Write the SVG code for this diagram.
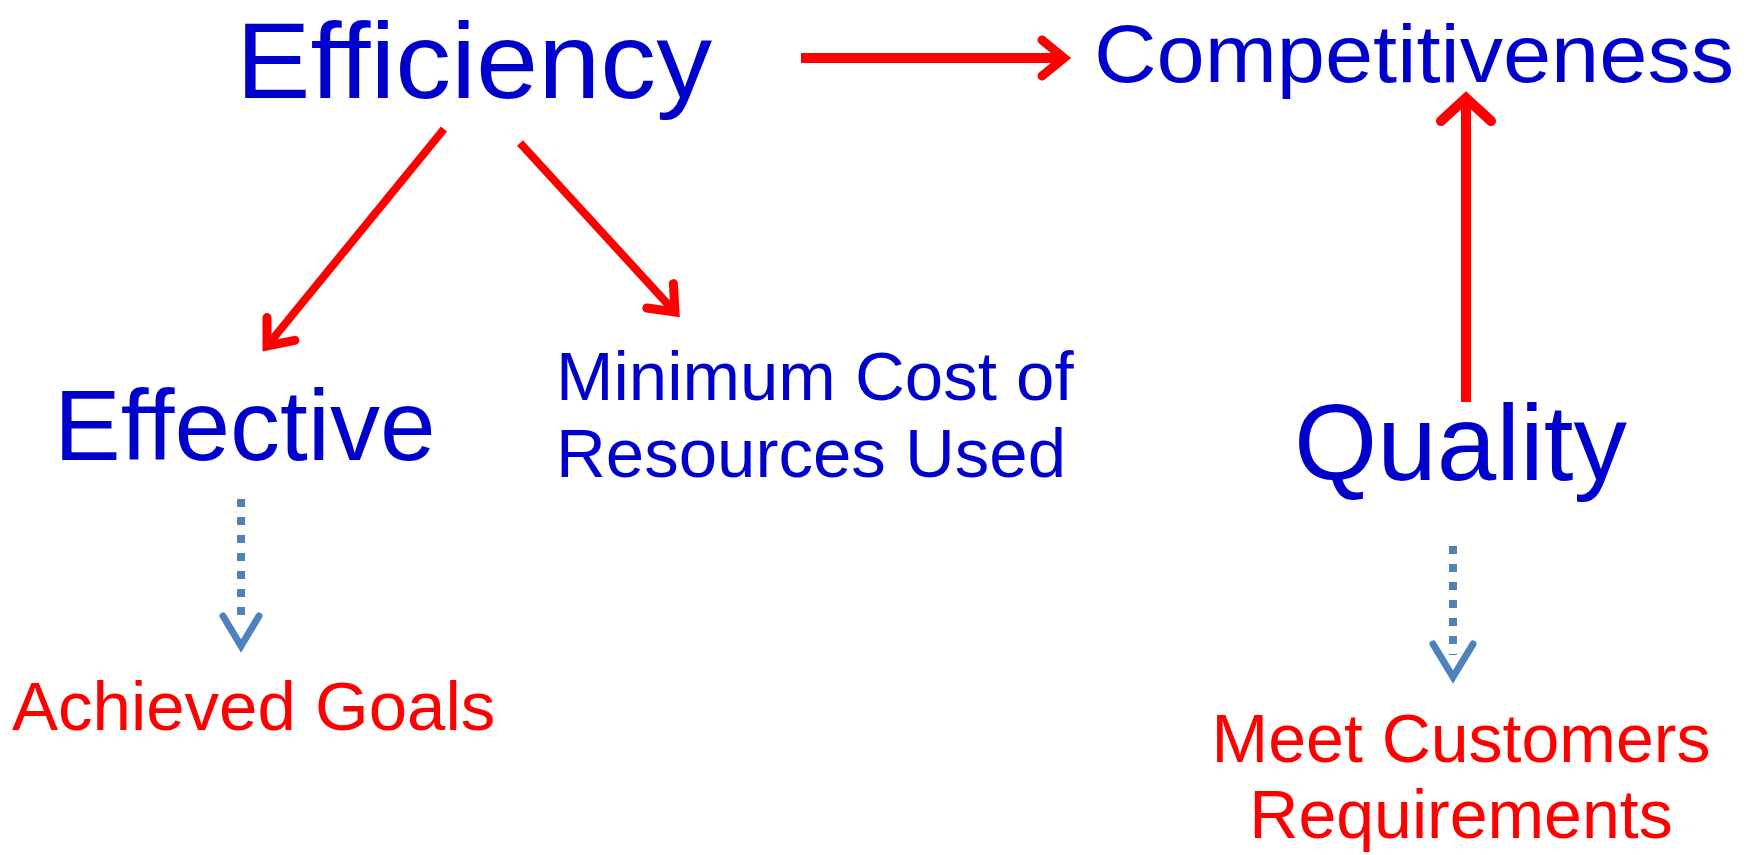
<svg xmlns="http://www.w3.org/2000/svg" width="1757" height="855" viewBox="0 0 1757 855">
<style>
.t{font-family:"Liberation Sans",Arial,sans-serif;}
.blue{fill:#0000CC;}
.red{fill:#FF0000;}
.ar{stroke:#FF0000;fill:none;}
.dot{stroke:#4F81BD;stroke-width:8;stroke-dasharray:8 10;fill:none;}
.chev{stroke:#4F81BD;stroke-width:7;fill:none;stroke-linecap:round;}
</style>
<defs>
<marker id="ah" markerUnits="userSpaceOnUse" markerWidth="80" markerHeight="80" viewBox="-40 -40 80 80" refX="0" refY="0" orient="auto" overflow="visible">
<path d="M-22,-18 L0,0 L-22,18" fill="none" stroke="#FF0000" stroke-width="9" stroke-linecap="round"/>
</marker>
<marker id="ahw" markerUnits="userSpaceOnUse" markerWidth="80" markerHeight="80" viewBox="-40 -40 80 80" refX="0" refY="0" orient="auto" overflow="visible">
<path d="M-23,-25 L0,0 L-23,25" fill="none" stroke="#FF0000" stroke-width="10" stroke-linecap="round"/>
</marker>
</defs>
<rect width="1757" height="855" fill="#FFFFFF"/>
<g id="n-efficiency"><text class="t blue" x="236" y="98" font-size="108" textLength="476" lengthAdjust="spacingAndGlyphs">Efficiency</text></g>
<g id="n-competitiveness"><text class="t blue" x="1094" y="82" font-size="81" textLength="640" lengthAdjust="spacingAndGlyphs">Competitiveness</text></g>
<g id="n-effective"><text class="t blue" x="54" y="460" font-size="100">Effective</text></g>
<g id="n-mincost"><text class="t blue" font-size="69"><tspan x="556" y="400">Minimum Cost of</tspan><tspan x="556" y="477">Resources Used</tspan></text></g>
<g id="n-quality"><text class="t blue" x="1294" y="480" font-size="107">Quality</text></g>
<g id="n-achieved"><text class="t red" x="12" y="730" font-size="69">Achieved Goals</text></g>
<g id="n-meet"><text class="t red" font-size="68" text-anchor="middle"><tspan x="1461" y="762">Meet Customers</tspan><tspan x="1461" y="838">Requirements</tspan></text></g>
<g id="connectors">
<line class="ar" x1="801" y1="58" x2="1064" y2="58" stroke-width="10" marker-end="url(#ah)"/>
<line class="ar" x1="1466" y1="402" x2="1466" y2="98" stroke-width="10" marker-end="url(#ahw)"/>
<line class="ar" x1="444" y1="129" x2="267" y2="346" stroke-width="8" marker-end="url(#ah)"/>
<line class="ar" x1="520" y1="143" x2="675" y2="312" stroke-width="8" marker-end="url(#ah)"/>
<line class="dot" x1="241" y1="499" x2="241" y2="622"/>
<path class="chev" d="M223,616 L241,646 L259,616"/>
<line class="dot" x1="1453" y1="546" x2="1453" y2="655"/>
<path class="chev" d="M1433,644 L1453,677 L1473,644"/>
</g>
</svg>
